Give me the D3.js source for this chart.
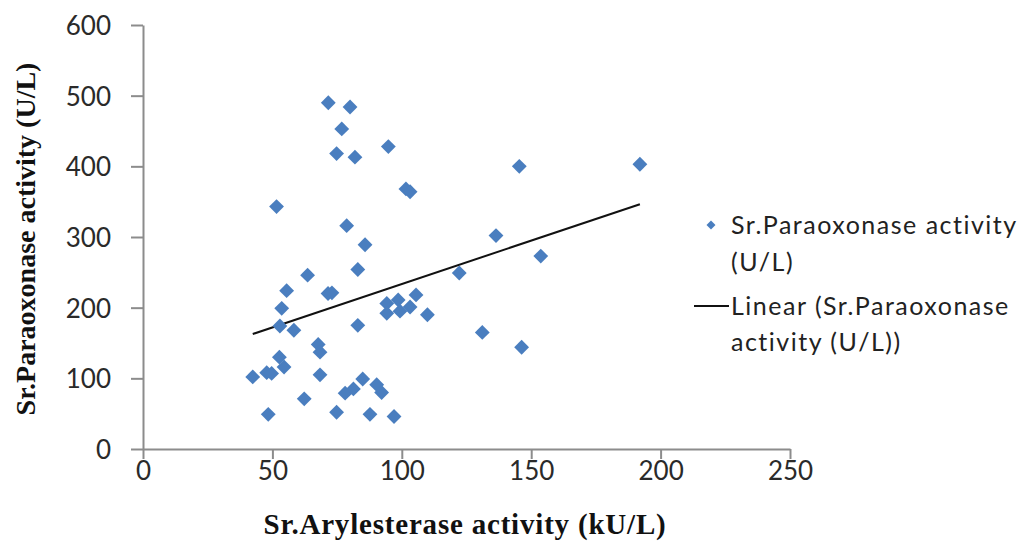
<!DOCTYPE html>
<html>
<head>
<meta charset="utf-8">
<script src="https://cdn.jsdelivr.net/npm/d3@7"></script>
<style>
  html, body { margin: 0; padding: 0; background: #fff; }
  svg { display: block; }
  .tick text { font-family: Lato, "Open Sans", sans-serif; font-size: 26px; fill: #2a2a2a; }
  .axis-title { font-family: "Liberation Serif", "Times New Roman", serif; font-weight: bold; fill: #111; }
  .legend text { font-family: Lato, "Open Sans", sans-serif; font-size: 25px; letter-spacing: 1.5px; fill: #222; }
</style>
</head>
<body>
<svg id="chart" width="1032" height="548"></svg>
<script>
// Arylesterase activity (kU/L) for each subject
const arylesterase = [
  71.6, 80.0, 76.8, 74.8, 81.9, 94.8, 145.4, 192.0, 101.6, 103.2,
  51.6, 136.4, 78.7, 85.8, 63.6, 83.0, 122.2, 55.5, 71.5, 73.0,
  53.6, 52.9, 58.3, 67.7, 68.4, 52.7, 54.5, 42.4, 47.8, 49.7,
  68.4, 62.3, 48.4, 74.8, 83.0, 105.5, 98.6, 94.2, 103.2, 99.3,
  94.2, 109.9, 131.1, 146.3, 153.7, 84.9, 78.1, 81.3, 90.3, 92.2,
  87.7, 97.0
];
// Paraoxonase activity (U/L) for the same subjects
const paraoxonase = [
  490, 484, 453, 418, 413, 428, 400, 403, 368, 364,
  343, 302, 316, 289, 246, 254, 249, 224, 220, 221,
  199, 174, 168, 148, 137, 130, 116, 102, 108, 107,
  105, 71, 49, 52, 175, 218, 211, 206, 201, 195,
  192, 190, 165, 144, 273, 99, 79, 85, 91, 80,
  49, 46
];
const xTicks = [0, 50, 100, 150, 200, 250];
const yTicks = [0, 100, 200, 300, 400, 500, 600];
const seriesName = "Sr.Paraoxonase activity";
const seriesUnit = "(U/L)";

const points = arylesterase.map((x, i) => ({ x, y: paraoxonase[i] }));

const svg = d3.select("#chart");
const margin = { left: 143, top: 25, right: 242, bottom: 99 };
const W = 1032, H = 548;

const x = d3.scaleLinear().domain([0, 250]).range([margin.left, W - margin.right]);
const y = d3.scaleLinear().domain([0, 600]).range([H - margin.bottom, margin.top]);

const axisColor = "#8c8c8c";

// y axis
const gy = svg.append("g")
  .attr("transform", `translate(${margin.left},0)`)
  .call(d3.axisLeft(y).tickValues(yTicks).tickSize(12).tickPadding(20).tickSizeOuter(0));
// x axis
const gx = svg.append("g")
  .attr("transform", `translate(0,${H - margin.bottom})`)
  .call(d3.axisBottom(x).tickValues(xTicks).tickSize(10).tickPadding(3).tickSizeOuter(0));

[gx, gy].forEach(g => {
  g.select(".domain").attr("stroke", axisColor).attr("stroke-width", 2);
  g.selectAll(".tick line").attr("stroke", axisColor).attr("stroke-width", 2);
});
gy.selectAll(".tick text").attr("dy", "0.36em");

// least-squares trend line over the observed range
const mx = d3.mean(points, d => d.x), my = d3.mean(points, d => d.y);
const slope = d3.sum(points, d => (d.x - mx) * (d.y - my)) / d3.sum(points, d => (d.x - mx) ** 2);
const intercept = my - slope * mx;
const [x0, x1] = d3.extent(points, d => d.x);

svg.append("line")
  .attr("x1", x(x0)).attr("y1", y(intercept + slope * x0))
  .attr("x2", x(x1)).attr("y2", y(intercept + slope * x1))
  .attr("stroke", "#111").attr("stroke-width", 2);

// diamond markers
const diamond = d3.symbol(d3.symbolSquare, 110);
svg.append("g").selectAll("path")
  .data(points)
  .join("path")
  .attr("d", diamond)
  .attr("transform", d => `translate(${x(d.x)},${y(d.y)}) rotate(45)`)
  .attr("fill", "#4a7ebf");

// axis titles
svg.append("text").attr("class", "axis-title")
  .attr("x", 465).attr("y", 534).attr("text-anchor", "middle")
  .style("font-size", "29px").style("letter-spacing", "0.8px")
  .text("Sr.Arylesterase activity  (kU/L)");
svg.append("text").attr("class", "axis-title")
  .attr("transform", "translate(35,239) rotate(-90)")
  .attr("text-anchor", "middle")
  .style("font-size", "28px")
  .text("Sr.Paraoxonase activity (U/L)");

// legend
const lg = svg.append("g").attr("class", "legend");
lg.append("path").attr("d", d3.symbol(d3.symbolSquare, 40)())
  .attr("transform", "translate(711,225) rotate(45)").attr("fill", "#4a7ebf");
lg.append("text").attr("x", 731).attr("y", 234).text(seriesName);
lg.append("text").attr("x", 731).attr("y", 271).text(seriesUnit);
lg.append("line").attr("x1", 694).attr("x2", 729).attr("y1", 306).attr("y2", 306)
  .attr("stroke", "#111").attr("stroke-width", 2);
lg.append("text").attr("x", 731).attr("y", 315).text(`Linear (${seriesName.replace(" activity", "")}`);
lg.append("text").attr("x", 731).attr("y", 351).text(`activity ${seriesUnit})`);
</script>
</body>
</html>
